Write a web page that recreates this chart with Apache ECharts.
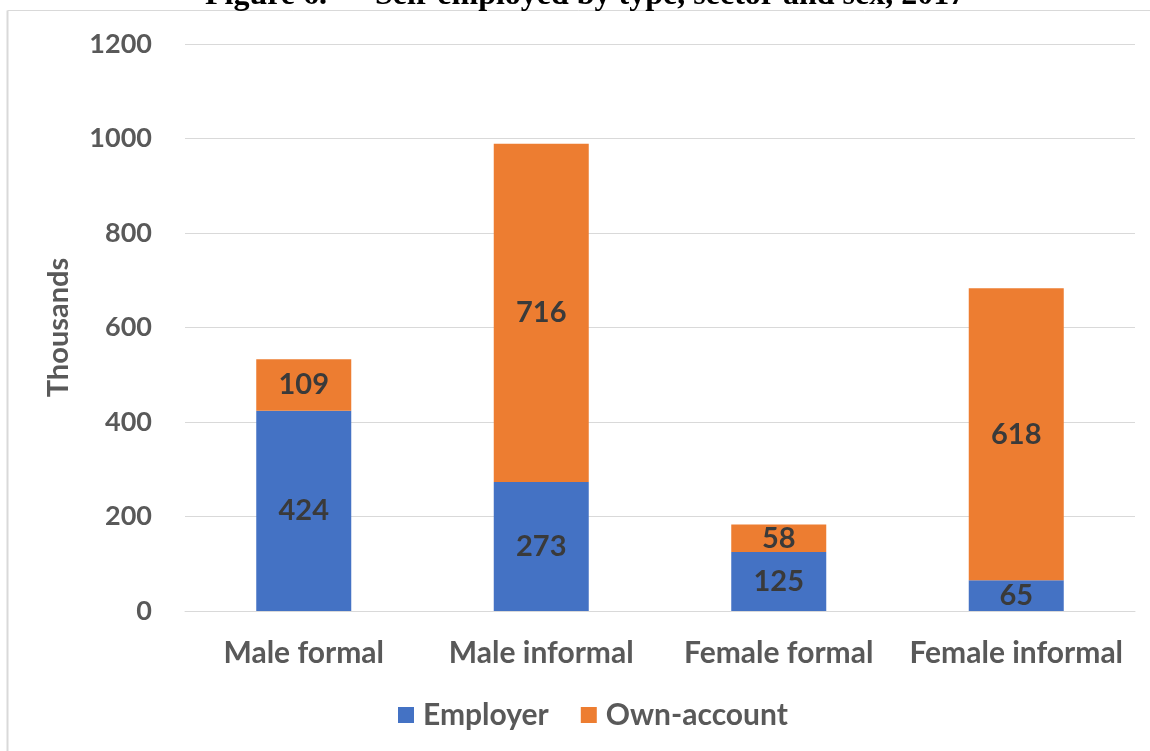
<!DOCTYPE html>
<html>
<head>
<meta charset="utf-8">
<script src="https://cdn.jsdelivr.net/npm/echarts@6/dist/echarts.min.js"></script>
<style>
  html, body { margin: 0; padding: 0; background: #fff; }
  #chart { width: 1150px; height: 751px; }
</style>
</head>
<body>
<div id="chart"></div>
<script>
// Self-employed by type, sector and sex, 2017 (thousands)
const categories = ['Male formal', 'Male informal', 'Female formal', 'Female informal'];
const employer = [424, 273, 125, 65];
const ownAccount = [109, 716, 58, 618];
const titleText = 'Figure 6.      Self-employed by type, sector and sex, 2017';

const FONT = 'Lato';
const chart = echarts.init(document.getElementById('chart'), null, { renderer: 'canvas' });

const barLabel = {
  show: true,
  position: 'inside',
  color: '#3a3a3a',
  fontFamily: FONT,
  fontWeight: 'bold',
  fontSize: 29
};

chart.setOption({
  animation: false,
  backgroundColor: '#ffffff',
  graphic: [
    { type: 'line', shape: { x1: 7.5, y1: 10.5, x2: 1150, y2: 10.5 }, style: { stroke: '#d9d9d9', lineWidth: 1 } },
    { type: 'line', shape: { x1: 7.5, y1: 10.5, x2: 7.5, y2: 751 }, style: { stroke: '#d9d9d9', lineWidth: 2 } },
    {
      type: 'text', left: 205, top: -20,
      style: { text: titleText, font: 'bold 32px "Liberation Serif"', fill: '#000' }
    }
  ],
  grid: { left: 185, right: 15, top: 44, bottom: 140, containLabel: false },
  legend: {
    bottom: 16,
    left: 393,
    itemWidth: 16,
    itemHeight: 16,
    itemGap: 32,
    icon: 'rect',
    textStyle: { color: '#595959', fontFamily: FONT, fontWeight: 'bold', fontSize: 30, padding: [0, 0, 0, 4] },
    data: ['Employer', 'Own-account']
  },
  xAxis: {
    type: 'category',
    data: categories,
    axisLine: { lineStyle: { color: '#d9d9d9', width: 1 } },
    axisTick: { show: false },
    axisLabel: { interval: 0, color: '#595959', fontFamily: FONT, fontWeight: 'bold', fontSize: 30, margin: 27 }
  },
  yAxis: {
    type: 'value',
    min: 0, max: 1200, interval: 200,
    name: 'Thousands',
    nameLocation: 'middle',
    nameGap: 112,
    nameTextStyle: { color: '#595959', fontFamily: FONT, fontWeight: 'bold', fontSize: 29 },
    axisLine: { show: false },
    axisTick: { show: false },
    axisLabel: { color: '#595959', fontFamily: FONT, fontWeight: 'bold', fontSize: 27, margin: 33, formatter: (v) => String(v) },
    splitLine: { lineStyle: { color: '#d9d9d9', width: 1 } }
  },
  series: [
    {
      name: 'Employer', type: 'bar', stack: 'total', data: employer,
      barWidth: '40%',
      itemStyle: { color: '#4472c4' },
      label: barLabel
    },
    {
      name: 'Own-account', type: 'bar', stack: 'total', data: ownAccount,
      barWidth: '40%',
      itemStyle: { color: '#ed7d31' },
      label: barLabel
    }
  ]
});
</script>
</body>
</html>
